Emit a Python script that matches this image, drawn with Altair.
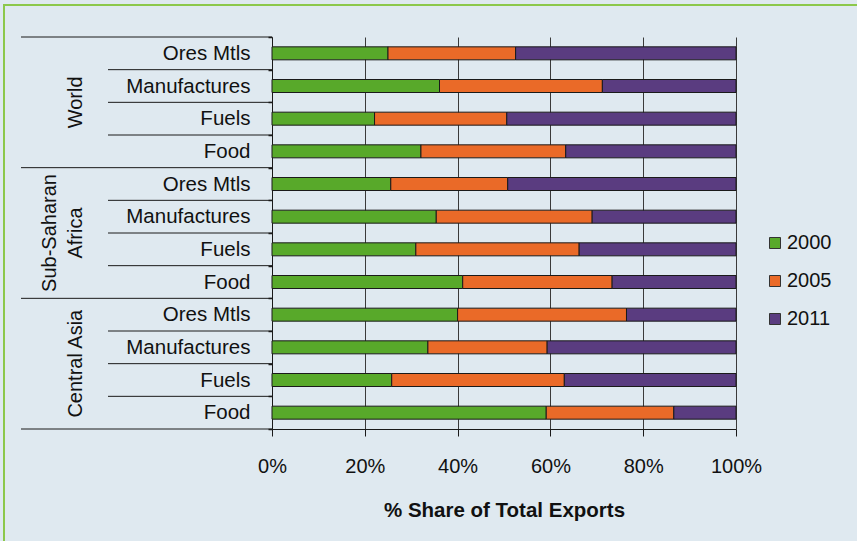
import altair as alt
import pandas as pd

# ---------------- data ----------------
regions = ["World", "Sub-Saharan Africa", "Central Asia"]
region_line1 = ["", "Sub-Saharan", ""]
region_line2 = ["World", "Africa", "Central Asia"]
categories = ["Ores Mtls", "Manufactures", "Fuels", "Food"]
years = ["2000", "2005", "2011"]

# share of total exports (%), rows in order: region x category
share_2000 = [25.0, 36.1, 22.1, 32.1, 25.6, 35.4, 31.0, 41.1, 40.0, 33.6, 25.8, 59.1]
share_2005 = [27.5, 35.1, 28.5, 31.2, 25.2, 33.6, 35.2, 32.2, 36.4, 25.7, 37.2, 27.5]
share_2011 = [47.5, 28.8, 49.4, 36.7, 49.2, 31.0, 33.8, 26.7, 23.6, 40.7, 37.0, 13.4]

colors = ["#58a92a", "#ea6a28", "#5a3c80"]
FONT = "Liberation Sans"

row_keys = [f"{r}|{c}" for r in regions for c in categories]

records = []
for i, key in enumerate(row_keys):
    for j, vals in enumerate([share_2000, share_2005, share_2011]):
        records.append({"row": key, "year": years[j], "ord": j, "share": vals[i]})
df = pd.DataFrame(records)

y_scale = alt.Scale(domain=row_keys, paddingInner=0, paddingOuter=0)

y_axis = alt.Axis(
    title=None,
    labelExpr="split(datum.label, '|')[1]",
    tickBand="extent",
    tickSize=4,
    tickWidth=1.5,
    tickColor="#1a1a1a",
    domainColor="#1a1a1a",
    labelFontSize=20.5,
    labelPadding=18,
    labelColor="#111111",
    grid=False,
)

bars = alt.Chart(df).mark_bar(height=13, stroke="#1a1a1a", strokeWidth=1).encode(
    x=alt.X(
        "share:Q",
        stack="normalize",
        scale=alt.Scale(domain=[0, 1], nice=False),
        axis=alt.Axis(
            format="%",
            values=[0, 0.2, 0.4, 0.6, 0.8, 1.0],
            title="% Share of Total Exports",
            grid=True,
            gridColor="#3a3a3a",
            gridWidth=1,
            tickSize=7,
            tickColor="#1a1a1a",
            domainColor="#1a1a1a",
            labelFontSize=20,
            labelPadding=20,
            labelFlush=False,
            labelColor="#111111",
            titleFontSize=20.5,
            titleFontWeight="bold",
            titleColor="#111111",
            titlePadding=24,
        ),
    ),
    y=alt.Y("row:N", scale=y_scale, axis=y_axis),
    color=alt.Color(
        "year:N",
        scale=alt.Scale(domain=years, range=colors),
        legend=alt.Legend(
            title=None,
            orient="none",
            legendX=493,
            legendY=196,
            symbolType="square",
            symbolSize=121,
            symbolStrokeColor="#333333",
            symbolStrokeWidth=1,
            symbolOpacity=1,
            labelFontSize=20,
            labelOffset=2,
            rowPadding=18,
            padding=0,
            labelColor="#111111",
        ),
    ),
    order=alt.Order("ord:Q", sort="ascending"),
)

inner_rows = [k for i, k in enumerate(row_keys) if i % 4 != 0]
group_rows = [row_keys[0], row_keys[4], row_keys[8]]
bottom_rows = [row_keys[-1]]
mid_rows = [row_keys[2], row_keys[6], row_keys[10]]


def yenc(band):
    return alt.Y("row:N", scale=y_scale, axis=y_axis, bandPosition=band)


rules_inner = alt.Chart(pd.DataFrame({"row": inner_rows})).mark_rule(
    color="#1a1a1a", strokeWidth=1
).encode(y=yenc(0), x=alt.value(-164), x2=alt.value(0))

rules_group = alt.Chart(pd.DataFrame({"row": group_rows})).mark_rule(
    color="#1a1a1a", strokeWidth=1
).encode(y=yenc(0), x=alt.value(-251), x2=alt.value(0))

rules_bottom = alt.Chart(pd.DataFrame({"row": bottom_rows})).mark_rule(
    color="#1a1a1a", strokeWidth=1
).encode(y=yenc(1), x=alt.value(-251), x2=alt.value(0))

text_props = dict(
    angle=270,
    align="center",
    baseline="alphabetic",
    fontSize=20,
    font=FONT,
    color="#111111",
)

group_text2 = alt.Chart(
    pd.DataFrame({"row": mid_rows, "label": region_line2})
).mark_text(**text_props).encode(y=yenc(0), x=alt.value(-190), text="label:N")

group_text1 = alt.Chart(
    pd.DataFrame({"row": mid_rows, "label": region_line1})
).mark_text(**text_props).encode(y=yenc(0), x=alt.value(-216), text="label:N")

border_left = alt.Chart(pd.DataFrame({"k": [0]})).mark_rule(
    color="#8cc84b", strokeWidth=2
).encode(x=alt.value(-268), y=alt.value(-32), y2=alt.value(510))

border_top = alt.Chart(pd.DataFrame({"k": [0]})).mark_rule(
    color="#8cc84b", strokeWidth=2
).encode(x=alt.value(-269), x2=alt.value(590), y=alt.value(-32))

chart = alt.layer(
    bars, rules_inner, rules_group, rules_bottom, group_text1, group_text2,
    border_left, border_top
).properties(
    width=464,
    height=392,
    autosize=alt.AutoSizeParams(type="none"),
    padding={"left": 272, "top": 37, "right": 121, "bottom": 112},
    background="#dfe9f0",
).configure_view(
    stroke=None
).configure_axis(
    labelFont=FONT, titleFont=FONT
).configure_legend(
    labelFont=FONT
)

chart.save("out.html", embed_options={"renderer": "svg", "actions": False})
